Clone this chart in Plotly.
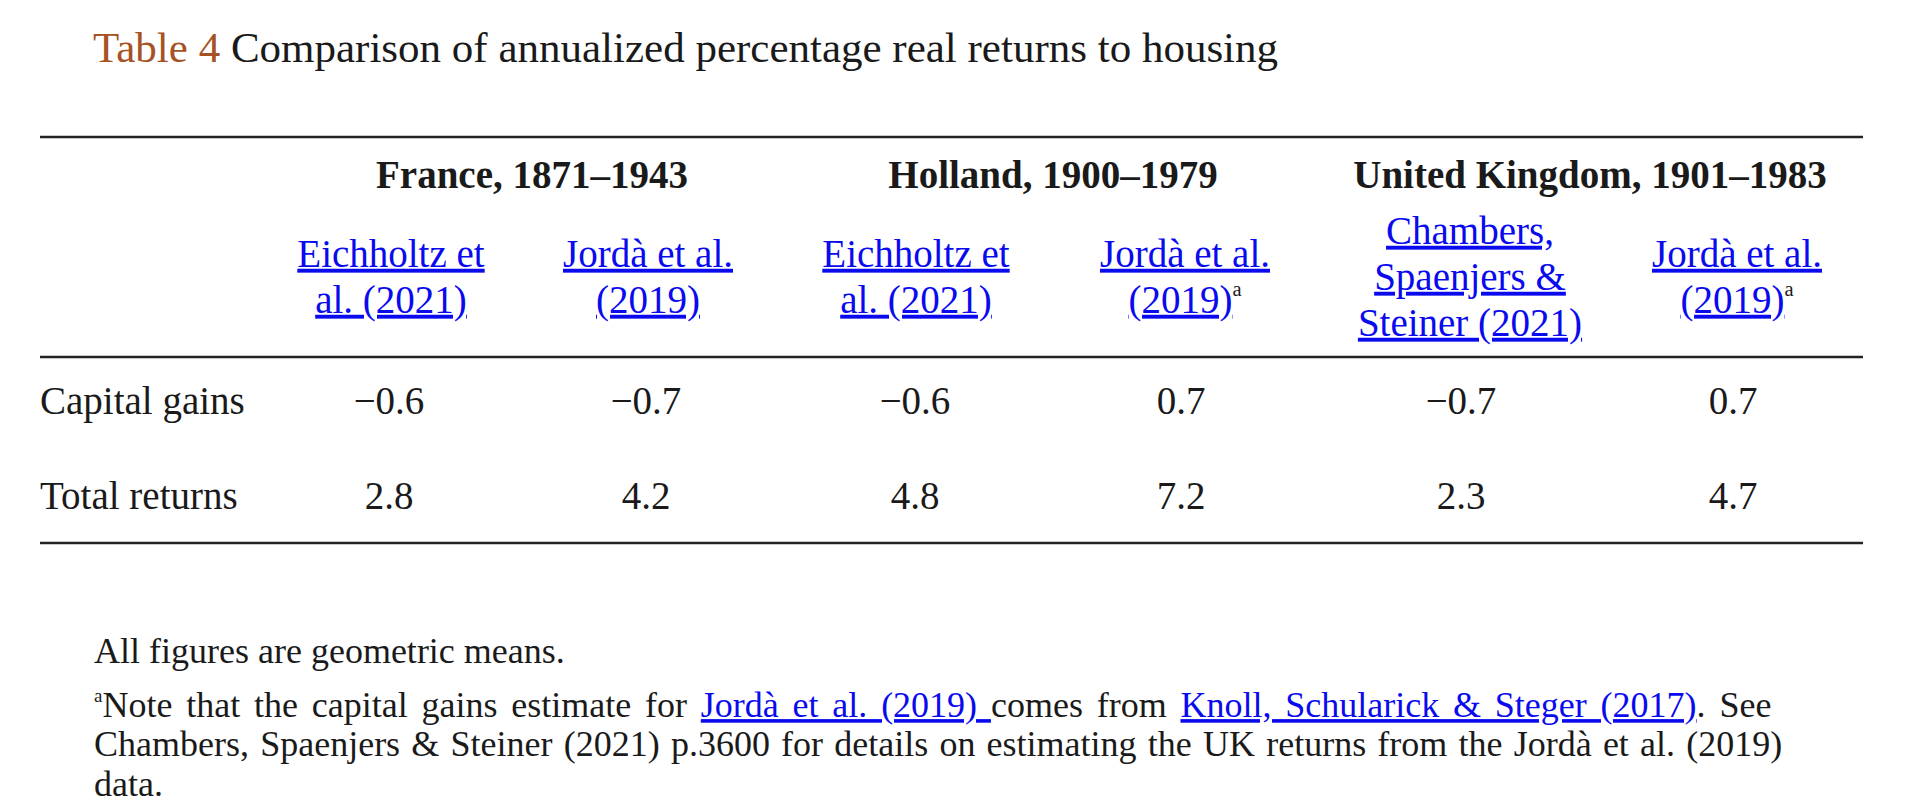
import plotly.graph_objects as go

# table content
GROUPS = ["France, 1871–1943", "Holland, 1900–1979", "United Kingdom, 1901–1983"]
SOURCES = [
    ["Eichholtz et", "al. (2021)"],
    ["Jordà et al.", "(2019)"],
    ["Eichholtz et", "al. (2021)"],
    ["Jordà et al.", "(2019)"],
    ["Chambers,", "Spaenjers &", "Steiner (2021)"],
    ["Jordà et al.", "(2019)"],
]
SOURCE_NOTE = [False, False, False, True, False, True]
ROWS = ["Capital gains", "Total returns"]
CAPITAL_GAINS = [-0.6, -0.7, -0.6, 0.7, -0.7, 0.7]
TOTAL_RETURNS = [2.8, 4.2, 4.8, 7.2, 2.3, 4.7]

TITLE_NUM = "Table 4"
TITLE = "Comparison of annualized percentage real returns to housing"
NOTE_1 = "All figures are geometric means."

# layout (pixels, the axes are set up 1:1 with the page)
W, H = 1920, 799
FONT = "Liberation Serif"
INK = "#1a1a1a"
LINK = "#0a0aee"
BROWN = "#a65224"
GROUP_X = [532, 1053, 1590]
GROUP_Y = 178
COL_X = [391, 648, 916, 1185, 1470, 1737]
VAL_X = [389, 646, 915, 1181, 1461, 1733]
HEAD_Y = 280
LINE_GAP = 46
ROW_Y = [404, 499]
LABEL_X = 40
RULES_Y = [137, 357, 543]
RULE_X = (40, 1863)

SUP_A = "<sup><span style='font-size:75%'>a</span></sup>"


def link(s):
    return f"<span style='color:{LINK}'><u>{s}</u></span>"


def fmt(v):
    return f"{v:.1f}".replace("-", "\u2212")


fig = go.Figure()

# group headers
fig.add_trace(go.Scatter(
    x=GROUP_X, y=[GROUP_Y] * len(GROUPS), mode="text",
    text=[f"<b>{g}</b>" for g in GROUPS],
    textposition="middle center",
    textfont=dict(family=FONT, size=39, color=INK),
))

# source headers, one point per line
hx, hy, ht = [], [], []
for i, lines in enumerate(SOURCES):
    n = len(lines)
    for j, ln in enumerate(lines):
        hx.append(COL_X[i])
        hy.append(HEAD_Y + (j - (n - 1) / 2) * LINE_GAP)
        t = link(ln)
        if SOURCE_NOTE[i] and j == n - 1:
            t += SUP_A
        ht.append(t)
fig.add_trace(go.Scatter(
    x=hx, y=hy, mode="text", text=ht, textposition="middle center",
    textfont=dict(family=FONT, size=39, color=INK),
))

# row labels
fig.add_trace(go.Scatter(
    x=[LABEL_X] * len(ROWS), y=ROW_Y, mode="text", text=ROWS,
    textposition="middle right",
    textfont=dict(family=FONT, size=39, color=INK),
))

# values
for y, vals in zip(ROW_Y, [CAPITAL_GAINS, TOTAL_RETURNS]):
    fig.add_trace(go.Scatter(
        x=VAL_X, y=[y] * len(vals), mode="text",
        text=[fmt(v) for v in vals], textposition="middle center",
        textfont=dict(family=FONT, size=39, color=INK),
    ))

for ry in RULES_Y:
    fig.add_shape(type="line", xref="x", yref="y", x0=RULE_X[0], x1=RULE_X[1],
                  y0=ry, y1=ry, line=dict(color="#222222", width=2.5))

# title
fig.add_annotation(
    xref="x", yref="y", x=91, y=47, xanchor="left", yanchor="middle",
    showarrow=False,
    text=f"<span style='color:{BROWN}'>{TITLE_NUM}</span> {TITLE}",
    font=dict(family=FONT, size=43, color=INK),
)

# footnotes (justified lines get a little extra word spacing)
note_lines = [
    NOTE_1,
    "<span style='word-spacing:4.8px'>" + SUP_A + "Note that the capital gains estimate for "
    + link("Jordà et al. (2019) ") + "comes from "
    + link("Knoll, Schularick & Steger (2017)") + ". See</span>",
    "<span style='word-spacing:2.2px'>Chambers, Spaenjers & Steiner (2021) p.3600 for details "
    "on estimating the UK returns from the Jordà et al. (2019)</span>",
    "data.",
]
note_y = [651, 705, 744, 784]
for t, y in zip(note_lines, note_y):
    fig.add_annotation(
        xref="x", yref="y", x=92, y=y, xanchor="left", yanchor="middle",
        showarrow=False, text=t,
        font=dict(family=FONT, size=36, color=INK),
    )

fig.update_layout(
    width=W, height=H,
    margin=dict(l=0, r=0, t=0, b=0),
    paper_bgcolor="white", plot_bgcolor="white",
    showlegend=False, hovermode=False,
    xaxis=dict(range=[0, W], visible=False, fixedrange=True),
    yaxis=dict(range=[H, 0], visible=False, fixedrange=True),
)

fig.write_html(
    "out.html",
    config={"displayModeBar": False},
    post_script="document.body.style.margin='0';document.body.style.overflow='hidden';",
)
